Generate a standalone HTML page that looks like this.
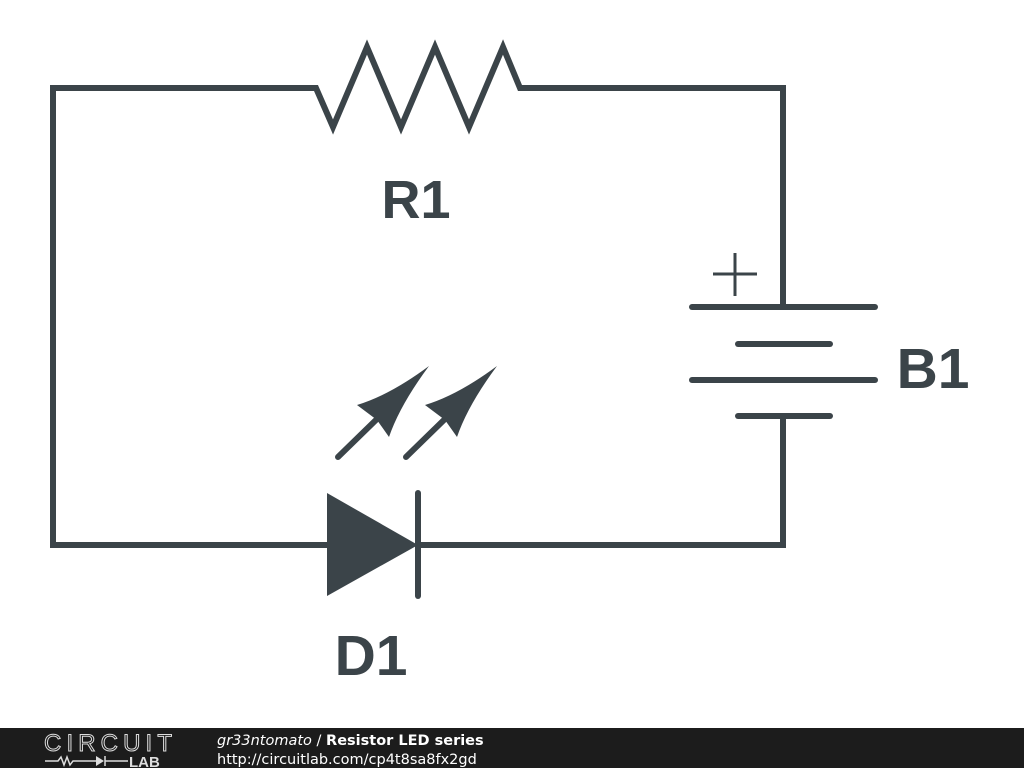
<!DOCTYPE html>
<html><head><style>
html,body{margin:0;padding:0;background:#fff;width:1024px;height:768px;overflow:hidden}
</style></head><body>
<svg width="1024" height="768" xmlns="http://www.w3.org/2000/svg" style="position:absolute;left:0;top:0">
<g fill="none" stroke="#3b4449" stroke-width="6" stroke-linejoin="miter">
<polyline points="783,307 783,88 520,88 503,47 469,127 435,47 401,127 367,47 333,127 316,88 53,88 53,545 327,545"/>
<polyline points="418,545 783,545 783,416"/>
</g>
<g stroke="#3b4449" stroke-width="6" stroke-linecap="round">
<line x1="692" y1="307" x2="875" y2="307"/>
<line x1="738" y1="344" x2="830" y2="344"/>
<line x1="692" y1="380" x2="875" y2="380"/>
<line x1="738" y1="416" x2="830" y2="416"/>
<line x1="418" y1="493" x2="418" y2="596"/>
<line x1="338" y1="457" x2="378" y2="418"/>
<line x1="406" y1="457" x2="446" y2="418"/>
</g>
<g stroke="#3b4449" stroke-width="3">
<line x1="713" y1="274" x2="757" y2="274"/>
<line x1="735" y1="253" x2="735" y2="296"/>
</g>
<g fill="#3b4449">
<polygon points="327,493 327,596 418,545"/>
<path d="M429,366 Q400,405 389,437 L377,420 L357,405 Q390,395 429,366Z"/>
<path d="M497,366 Q468,405 457,437 L445,420 L425,405 Q458,395 497,366Z"/>
</g>
<g font-family="Liberation Sans, sans-serif" font-weight="bold" fill="#3b4449">
<text x="416" y="218" font-size="54" text-anchor="middle">R1</text>
<text x="933" y="388" font-size="57" text-anchor="middle">B1</text>
<text x="371" y="675" font-size="57" text-anchor="middle">D1</text>
</g>
<rect x="0" y="728" width="1024" height="40" fill="#1c1c1c"/>
<text x="44" y="751" font-family="Liberation Sans, sans-serif" font-size="24" fill="none" stroke="#ddd" stroke-width="1" textLength="128">CIRCUIT</text>
<polyline points="45,761 58,761 61,757 64,765 67,757 70,765 73,761 96,761" fill="none" stroke="#ddd" stroke-width="1.5"/>
<polygon points="96,756 96,766 104,761" fill="#ddd"/>
<line x1="105" y1="756" x2="105" y2="766" stroke="#ddd" stroke-width="1.5"/>
<line x1="105" y1="761" x2="128" y2="761" stroke="#ddd" stroke-width="1.5"/>
<text x="129" y="767" font-family="Liberation Sans, sans-serif" font-weight="bold" font-size="15" fill="#ddd">LAB</text>
<text x="217" y="745" font-family="DejaVu Sans, sans-serif" font-size="14.5" fill="#fff"><tspan font-style="italic">gr33ntomato</tspan> / <tspan font-weight="bold">Resistor LED series</tspan></text>
<text x="217" y="764" font-family="DejaVu Sans, sans-serif" font-size="14.5" fill="#fff">http://circuitlab.com/cp4t8sa8fx2gd</text>
</svg>
</body></html>
